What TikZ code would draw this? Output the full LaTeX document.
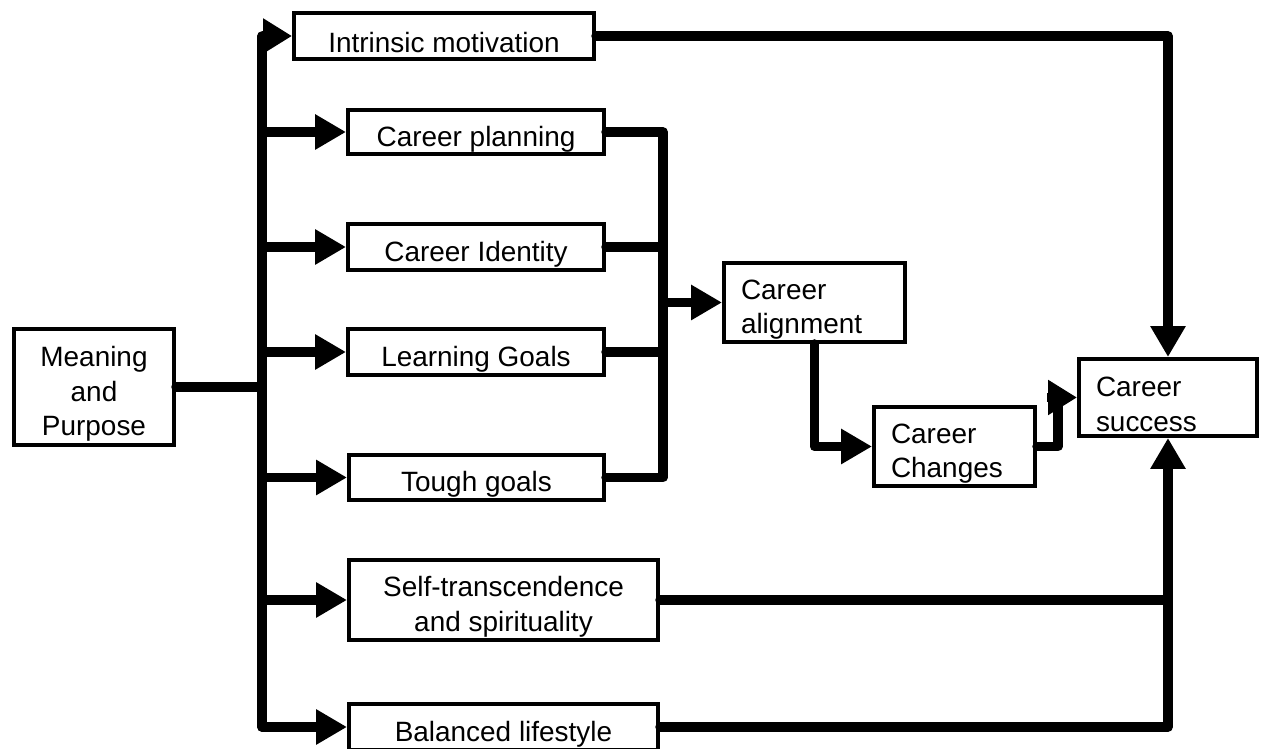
\documentclass[tikz,border=0pt]{standalone}
\usepackage{fontspec}
\setmainfont{Liberation Sans}
\usetikzlibrary{arrows.meta}
\begin{document}
\begin{tikzpicture}[x=0.02cm,y=-0.02cm,
  box/.style={draw, line width=2.27pt, inner sep=0pt},
  bw/.style={minimum width=#1*0.02cm},
  bh/.style={minimum height=#1*0.02cm},
  lbl/.style={font=\fontsize{15.9}{19.7}\selectfont, align=center, inner sep=0pt, yshift=-0.14cm},
  llbl/.style={lbl, align=left, text width=#1*0.02cm-0.68cm},
  conn/.style={line width=5.4pt, line cap=round, line join=round},
  arr/.style={conn, -{Triangle[length=17.6pt,width=19pt]}},
]
\useasboundingbox (0,0) rectangle (1262,749);
% nodes
\node[box,bw=300,bh=46,label={[lbl]center:Intrinsic motivation}] (intr) at (444,36) {};
\node[box,bw=256,bh=44,label={[lbl]center:Career planning}] (plan) at (476,132) {};
\node[box,bw=256,bh=46,label={[lbl]center:Career Identity}] (iden) at (476,247) {};
\node[box,bw=256,bh=46,label={[lbl]center:Learning Goals}] (lear) at (476,352) {};
\node[box,bw=255,bh=45,label={[lbl]center:Tough goals}] (toug) at (476.5,477.5) {};
\node[box,bw=309,bh=80,label={[lbl]center:Self-transcendence\\and spirituality}] (self) at (503.5,600) {};
\node[box,bw=309,bh=46,label={[lbl]center:Balanced lifestyle}] (bal) at (503.5,727) {};
\node[box,bw=160,bh=116,label={[lbl]center:Meaning\\and\\Purpose}] (mean) at (94,387) {};
\node[box,bw=181,bh=79,label={[llbl=181]center:Career\\alignment}] (alig) at (814.5,302.5) {};
\node[box,bw=161,bh=79,label={[llbl=161]center:Career\\Changes}] (chg) at (954.5,446.5) {};
\node[box,bw=178,bh=77,label={[llbl=178]center:Career\\success}] (suc) at (1168,397.5) {};
% trunk
\coordinate (tTop) at (262,36);
\coordinate (tBot) at (262,727);
\draw[conn] (mean.east) -- (mean.east -| tTop);
\draw[conn] (tTop) -- (tBot);
\draw[conn, line cap=butt, -{Triangle[length=16.5pt,width=19pt]}] (tTop) -- (intr.west);
\foreach \n in {plan,iden,lear,toug,self,bal}
  \draw[arr] (tTop |- \n.west) -- (\n.west);
% collector
\coordinate (col) at (663,132);
\draw[conn] (plan.east) -| (col |- toug.east) -- (toug.east);
\draw[conn] (iden.east) -- (col |- iden.east);
\draw[conn] (lear.east) -- (col |- lear.east);
\draw[arr] (col |- alig.west) -- (alig.west);
% alignment -> changes
\draw[arr] (alig.south) |- (chg.west);
% changes -> success
\coordinate (kink) at (1058,406);
\coordinate (sucin) at (1047,397.5);
\draw[conn] (chg.east) -| (kink);
\draw[conn, line cap=butt, -{Triangle[length=16.5pt,width=19pt]}] (sucin) -- (suc.west);
% others -> success
\draw[arr] (intr.east) -| (suc.north);
\draw[conn] (self.east) -- (self.east -| suc.south);
\draw[arr] (bal.east) -| (suc.south);
\end{tikzpicture}
\end{document}
